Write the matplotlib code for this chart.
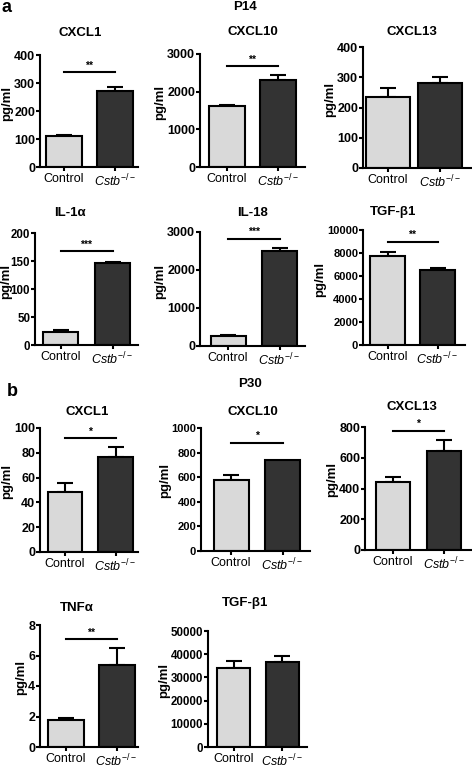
"""Cytokine levels, P14 and P30 (Control vs Cstb-/-)"""

import matplotlib

matplotlib.use("Agg")
import matplotlib.pyplot as plt
from matplotlib import font_manager

plt.rcParams["font.family"] = ["Liberation Sans", "DejaVu Sans"]
plt.rcParams["mathtext.fontset"] = "custom"
plt.rcParams["mathtext.rm"] = "Liberation Sans"
plt.rcParams["mathtext.it"] = "Liberation Sans:italic"
plt.rcParams["mathtext.bf"] = "Liberation Sans:bold"

# narrow face for the numbers if there is one
installed = {f.name for f in font_manager.fontManager.ttflist}
NUM_FONT = "Liberation Sans Narrow" if "Liberation Sans Narrow" in installed else "Liberation Sans"

groups = ["Control", r"$\mathit{Cstb}^{\mathit{-/-}}$"]

# ---- P14 data (pg/ml, mean and SEM) ----
p14_names = ["CXCL1", "CXCL10", "CXCL13", "IL-1α", "IL-18", "TGF-β1"]
p14_control = [110, 1630, 236, 23, 270, 7770]
p14_control_sem = [3, 20, 27, 3, 15, 280]
p14_cstb = [272, 2320, 280, 147, 2500, 6520]
p14_cstb_sem = [13, 110, 22, 2, 70, 200]
p14_stars = ["**", "**", "", "***", "***", "**"]
p14_ymax = [400, 3000, 400, 200, 3000, 10000]
p14_ystep = [100, 1000, 100, 50, 1000, 2000]

# ---- P30 data ----
p30_names = ["CXCL1", "CXCL10", "CXCL13", "TNFα", "TGF-β1"]
p30_control = [48, 575, 444, 1.8, 34000]
p30_control_sem = [8, 40, 33, 0.12, 3000]
p30_cstb = [77, 740, 644, 5.4, 36500]
p30_cstb_sem = [8, 0, 71, 1.1, 2800]
p30_stars = ["*", "*", "*", "**", ""]
p30_ymax = [100, 1000, 800, 8, 50000]
p30_ystep = [20, 200, 200, 2, 10000]

# ---- layout in pixels ----
# axes box (l, t, r, b), bar centres, bar width, bracket height (data), title pos, ylabel x, tick font size
W, H = 472, 768
p14_layout = [
    ((40, 55, 138, 167), (64, 115), 36, 339, (80, 33), 8, 9),
    ((200, 54, 305, 167), (227, 278), 36, 2680, (253, 32), 167, 9),
    ((363, 47, 472, 168), (388, 440), 44, None, (412, 32), 337, 9),
    ((35, 233, 138, 345), (60.5, 112.5), 35, 167, (70, 213), 8, 8.3),
    ((200, 232, 305, 346), (228, 279.5), 35, 2816, (253, 213), 172, 9),
    ((363, 230, 465, 345), (387.5, 437.5), 35, 8980, (393, 212), 329, 8),
]
p30_layout = [
    ((40, 428, 138, 552), (65, 115.5), 34.5, 91.7, (87, 412), 20, 9),
    ((201, 428, 310, 551), (231, 282.5), 35, 880, (253, 412), 180, 8),
    ((365, 427, 472, 550), (393, 444), 34.5, 776, (412, 407), 335, 9),
    ((40, 625, 138, 747), (65.5, 116.5), 36, 7.06, (77, 608), 22, 9),
    ((208, 631, 307, 747), (233.5, 282), 33, None, (245, 603), 168, 8.3),
]

LIGHT = "#d9d9d9"
DARK = "#333333"
LW = 1.5


def draw_panel(fig, layout, name, ctrl, ctrl_sem, cstb, cstb_sem, star, ymax, ystep):
    (l, t, r, b), (c1, c2), bw, sig_y, (tx, ty), ylab_x, tick_fs = layout
    ax = fig.add_axes([l / W, 1 - b / H, (r - l) / W, (b - t) / H])
    unit = c2 - c1
    width = bw / unit

    ax.bar([0, 1], [ctrl, cstb], width=width, color=[LIGHT, DARK],
           edgecolor="black", linewidth=LW, zorder=2)
    for x, v, e in [(0, ctrl, ctrl_sem), (1, cstb, cstb_sem)]:
        if e > 0:
            ax.errorbar(x, v, yerr=[[0], [e]], fmt="none", ecolor="black",
                        elinewidth=LW, capsize=6, capthick=LW, zorder=1)

    # significance bracket
    if star:
        ax.plot([0, 1], [sig_y, sig_y], color="black", linewidth=LW, clip_on=False)
        ax.text(0.5, sig_y + ymax * 0.015, star, ha="center", va="bottom",
                fontsize=7.5, fontweight="bold")

    ax.set_xlim((l - c1) / unit, (r - c1) / unit)
    ax.set_ylim(0, ymax)
    ax.set_yticks([ystep * i for i in range(int(round(ymax / ystep)) + 1)])
    ax.set_xticks([0, 1])
    ax.set_xticklabels(groups)
    for lab in ax.get_yticklabels():
        lab.set_fontweight("bold")
        lab.set_family([NUM_FONT, "Liberation Sans"])

    for s in ["top", "right"]:
        ax.spines[s].set_visible(False)
    for s in ["left", "bottom"]:
        ax.spines[s].set_linewidth(LW)
    ax.tick_params(axis="y", direction="out", length=3, width=LW, labelsize=tick_fs, pad=0.5)
    ax.tick_params(axis="x", direction="out", length=3, width=LW, labelsize=9, pad=1)

    fig.text(tx / W, 1 - ty / H, name, ha="center", va="center",
             fontsize=9.5, fontweight="bold")
    return ax, ylab_x, t, b


fig = plt.figure(figsize=(W / 100, H / 100), dpi=100)

panels = []
for i in range(len(p14_names)):
    panels.append(draw_panel(fig, p14_layout[i], p14_names[i], p14_control[i], p14_control_sem[i],
                             p14_cstb[i], p14_cstb_sem[i], p14_stars[i], p14_ymax[i], p14_ystep[i]))

for i in range(len(p30_names)):
    panels.append(draw_panel(fig, p30_layout[i], p30_names[i], p30_control[i], p30_control_sem[i],
                             p30_cstb[i], p30_cstb_sem[i], p30_stars[i], p30_ymax[i], p30_ystep[i]))

# y labels: keep them clear of the tick numbers
fig.canvas.draw()
renderer = fig.canvas.get_renderer()
for ax, ylab_x, t, b in panels:
    left_edge = min(lab.get_window_extent(renderer).x0 for lab in ax.get_yticklabels())
    x = max(6.5, min(ylab_x, left_edge - 6.5))
    yc = t + (b - t) * 0.43
    fig.text(x / W, 1 - yc / H, "pg/ml", rotation=90, ha="center", va="center",
             fontsize=9.5, fontweight="bold")

# panel letters and time points
fig.text(7 / W, 1 - 8 / H, "a", ha="center", va="center", fontsize=13, fontweight="bold")
fig.text(12 / W, 1 - 392 / H, "b", ha="center", va="center", fontsize=13, fontweight="bold")
fig.text(245 / W, 1 - 7 / H, "P14", ha="center", va="center", fontsize=9.5, fontweight="bold")
fig.text(250 / W, 1 - 384 / H, "P30", ha="center", va="center", fontsize=9.5, fontweight="bold")

plt.savefig("out.png", dpi=100)
